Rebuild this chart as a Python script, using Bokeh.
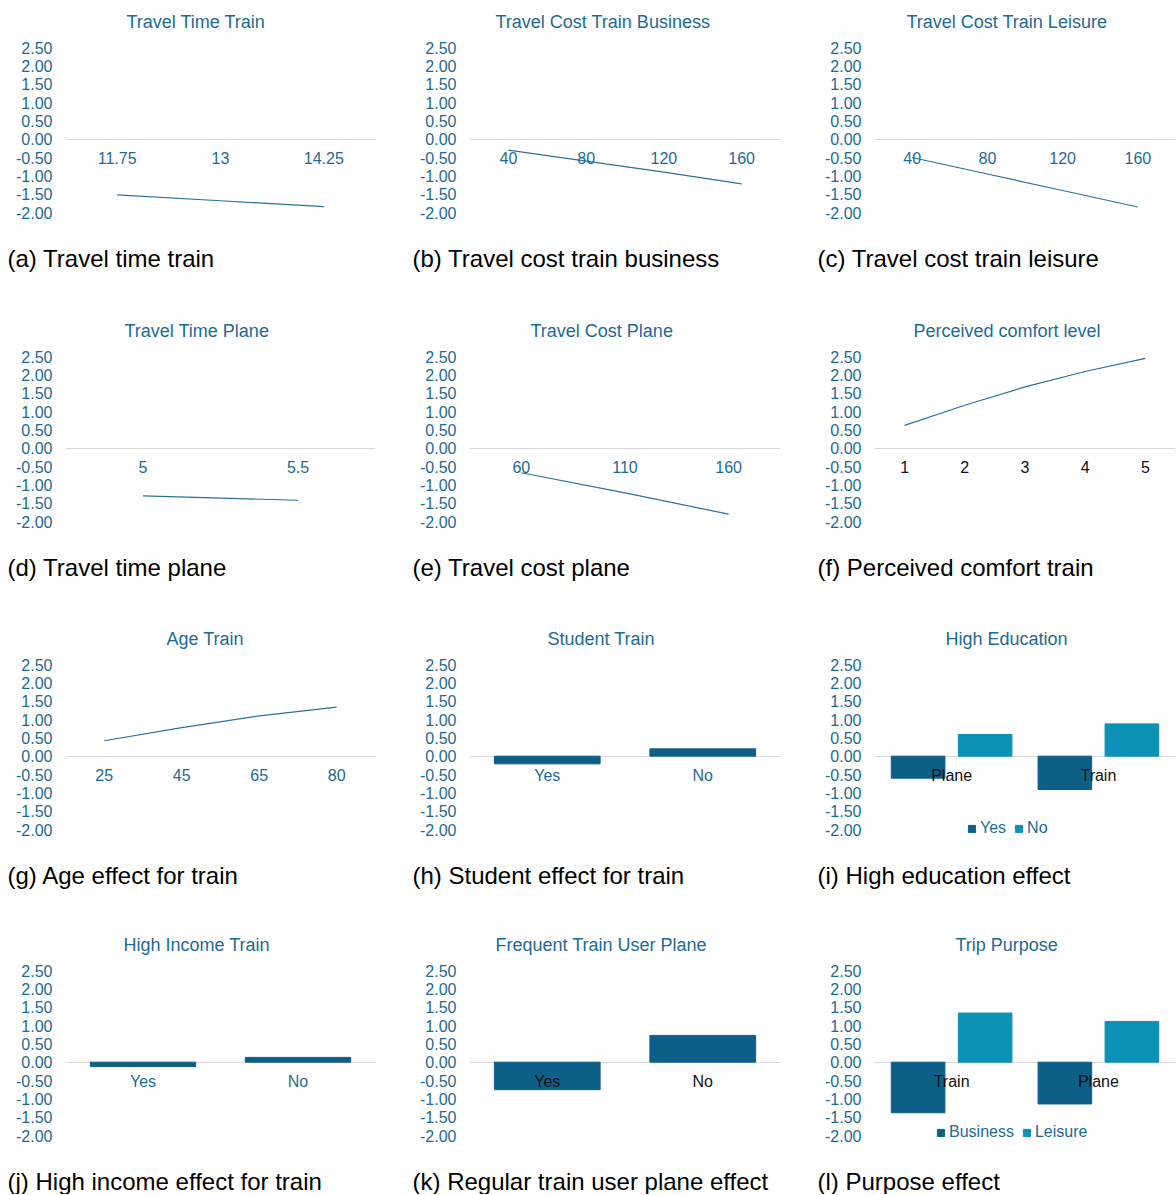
from bokeh.plotting import figure
from bokeh.layouts import column, row
from bokeh.models import FactorRange, Range1d, FixedTicker, NumeralTickFormatter, Title
from bokeh.core.properties import value
from bokeh.embed import file_html
from bokeh.resources import INLINE

# ---------------- data ----------------
tt_train_x = ["11.75", "13", "14.25"]
tt_train_y = [-1.52, -1.68, -1.84]

tc_business_x = ["40", "80", "120", "160"]
tc_business_y = [-0.30, -0.60, -0.90, -1.22]

tc_leisure_x = ["40", "80", "120", "160"]
tc_leisure_y = [-0.50, -0.95, -1.40, -1.85]

tt_plane_x = ["5", "5.5"]
tt_plane_y = [-1.30, -1.42]

tc_plane_x = ["60", "110", "160"]
tc_plane_y = [-0.67, -1.22, -1.80]

comfort_x = ["1", "2", "3", "4", "5"]
comfort_y = [0.62, 1.17, 1.67, 2.09, 2.45]

age_x = ["25", "45", "65", "80"]
age_y = [0.42, 0.78, 1.10, 1.34]

yes_no = ["Yes", "No"]
student_y = [-0.21, 0.20]
income_y = [-0.12, 0.13]
freq_user_y = [-0.75, 0.73]

edu_groups = ["Plane", "Train"]
edu_series = ["Yes", "No"]
edu_yes = [-0.60, -0.91]
edu_no = [0.59, 0.88]

purpose_groups = ["Train", "Plane"]
purpose_series = ["Business", "Leisure"]
purpose_business = [-1.38, -1.14]
purpose_leisure = [1.34, 1.11]

y_ticks = [-2.0, -1.5, -1.0, -0.5, 0.0, 0.5, 1.0, 1.5, 2.0, 2.5]

# ---------------- style / layout ----------------
FONT = "Liberation Sans"
TEAL = "#1d6a94"
LINE = "#2b7198"
DARK = "#0e5f88"
LIGHT = "#0b92b6"
BLACK = "#111111"
GRID = "#d9d9d9"

COL_W = [405, 405, 365]
COL_LEFT = [65, 64, 64]
COL_RIGHT = [30, 30, 0]
ROW_H = [309, 308, 306, 271]
FRAME_TOP = 40          # px from figure top to frame top (title box)
FRAME_H = 202           # frame height in px
PX_PER_UNIT = 165 / 4.5
Y_END = 2.5 + 7 / PX_PER_UNIT
Y_START = Y_END - FRAME_H / PX_PER_UNIT
CAP_OFF = [-58, -57, -57]


def make_fig(r, c, title, title_off, caption, x_range):
    p = figure(width=COL_W[c], height=ROW_H[r], x_range=x_range,
               y_range=Range1d(Y_START, Y_END), x_axis_location=None,
               output_backend="svg", toolbar_location=None,
               min_border_left=COL_LEFT[c], min_border_right=COL_RIGHT[c],
               min_border_top=FRAME_TOP,
               min_border_bottom=ROW_H[r] - FRAME_TOP - FRAME_H,
               outline_line_color=None, background_fill_color="white",
               border_fill_color="white")
    p.add_layout(Title(text=title, align="left", text_font_size="18px",
                       text_font_style="normal", text_color=TEAL,
                       text_font=FONT, standoff=17, offset=title_off), "above")
    p.add_layout(Title(text=caption, align="left", text_font_size="24px",
                       text_font_style="normal", text_color="black",
                       text_font=FONT, standoff=0, offset=CAP_OFF[c]), "below")
    ax = p.yaxis[0]
    ax.ticker = FixedTicker(ticks=y_ticks)
    ax.formatter = NumeralTickFormatter(format="0.00")
    ax.axis_line_color = None
    ax.major_tick_line_color = None
    ax.minor_tick_line_color = None
    ax.major_tick_out = 0
    ax.major_tick_in = 0
    ax.major_label_standoff = 13
    ax.major_label_text_font_size = "16px"
    ax.major_label_text_color = TEAL
    ax.major_label_text_font = FONT
    p.xgrid.visible = False
    p.ygrid.ticker = FixedTicker(ticks=[0])
    p.ygrid.grid_line_color = GRID
    p.ygrid.grid_line_width = 1.2
    return p


def cat_labels(p, cats, color):
    p.text(x=cats, y=[0] * len(cats), text=cats, text_align="center",
           text_baseline="middle", y_offset=19, text_font_size="16px",
           text_color=color, text_font=value(FONT))


def line_chart(r, c, title, toff, caption, xs, ys, label_color=TEAL):
    p = make_fig(r, c, title, toff, caption, FactorRange(*xs))
    p.line(x=xs, y=ys, line_color=LINE, line_width=1.2)
    cat_labels(p, xs, label_color)
    return p


def bar_chart(r, c, title, toff, caption, xs, ys, label_color=TEAL):
    p = make_fig(r, c, title, toff, caption, FactorRange(*xs))
    p.vbar(x=xs, top=ys, bottom=0, width=0.68, fill_color=DARK, line_color=DARK)
    cat_labels(p, xs, label_color)
    return p


def grouped_chart(r, c, title, toff, caption, groups, series, vals_a, vals_b, legend_xy):
    factors = [(g, s) for g in groups for s in series]
    xr = FactorRange(*factors, group_padding=0.19, range_padding=0.072)
    p = make_fig(r, c, title, toff, caption, xr)
    p.vbar(x=[(g, series[0]) for g in groups], top=vals_a, bottom=0, width=0.8,
           fill_color=DARK, line_color=DARK, legend_label=series[0])
    p.vbar(x=[(g, series[1]) for g in groups], top=vals_b, bottom=0, width=0.8,
           fill_color=LIGHT, line_color=LIGHT, legend_label=series[1])
    cat_labels(p, groups, BLACK)
    lg = p.legend[0]
    lg.location = legend_xy
    lg.orientation = "horizontal"
    lg.border_line_color = None
    lg.background_fill_alpha = 0
    lg.padding = 0
    lg.margin = 0
    lg.spacing = 8
    lg.glyph_width = 9
    lg.glyph_height = 9
    lg.label_standoff = 4
    lg.label_height = 16
    lg.label_text_font_size = "16px"
    lg.label_text_color = TEAL
    lg.label_text_font = FONT
    return p


pa = line_chart(0, 0, "Travel Time Train", 61, "(a) Travel time train", tt_train_x, tt_train_y)
pb = line_chart(0, 1, "Travel Cost Train Business", 26, "(b) Travel cost train business", tc_business_x, tc_business_y)
pc = line_chart(0, 2, "Travel Cost Train Leisure", 32, "(c) Travel cost train leisure", tc_leisure_x, tc_leisure_y)
pd_ = line_chart(1, 0, "Travel Time Plane", 59, "(d) Travel time plane", tt_plane_x, tt_plane_y)
pe = line_chart(1, 1, "Travel Cost Plane", 61, "(e) Travel cost plane", tc_plane_x, tc_plane_y)
pf = line_chart(1, 2, "Perceived comfort level", 39, "(f) Perceived comfort train", comfort_x, comfort_y, BLACK)
pg = line_chart(2, 0, "Age Train", 101, "(g) Age effect for train", age_x, age_y)
ph = bar_chart(2, 1, "Student Train", 78, "(h) Student effect for train", yes_no, student_y)
pi = grouped_chart(2, 2, "High Education", 71, "(i) High education effect", edu_groups, edu_series, edu_yes, edu_no, (93, 22))
pj = bar_chart(3, 0, "High Income Train", 58, "(j) High income effect for train", yes_no, income_y)
pk = bar_chart(3, 1, "Frequent Train User Plane", 26, "(k) Regular train user plane effect", yes_no, freq_user_y, BLACK)
pl = grouped_chart(3, 2, "Trip Purpose", 81, "(l) Purpose effect", purpose_groups, purpose_series, purpose_business, purpose_leisure, (62, 24))

layout = column(row(pa, pb, pc), row(pd_, pe, pf), row(pg, ph, pi), row(pj, pk, pl))

with open("out.html", "w") as f:
    f.write(file_html(layout, INLINE))
